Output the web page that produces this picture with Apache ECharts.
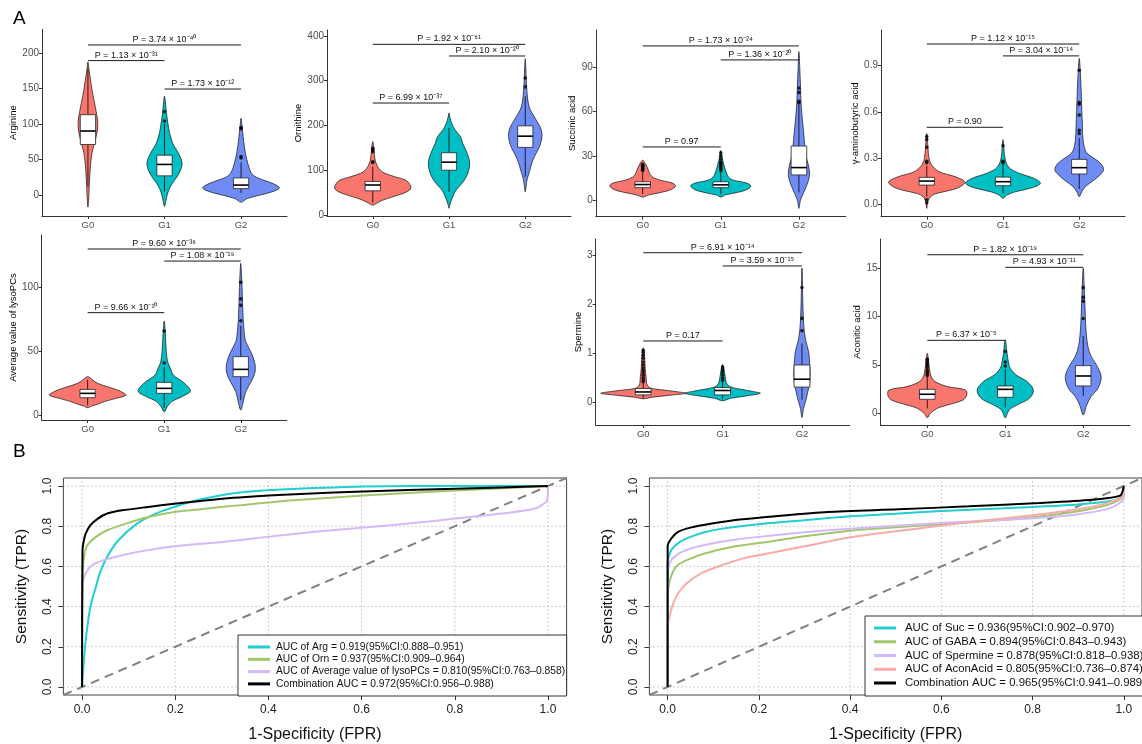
<!DOCTYPE html>
<html><head><meta charset="utf-8">
<script src="https://cdn.jsdelivr.net/npm/echarts@6/dist/echarts.min.js"></script>
<style>html,body{margin:0;padding:0;background:#fff}#c{width:1142px;height:744px}</style>
</head><body><div id="c"></div>
<script>
// ---------------- DATA ----------------
const groups = ['G0', 'G1', 'G2'];
const groupColors = ['#F8766D', '#00BFC4', '#6F8CF5'];

// violin shapes: [value, half-width in group units]; boxes: [lowWhisker, Q1, median, Q3, highWhisker]
const argTicks = [0, 50, 100, 150, 200];
const argViolins = [
  [[-17,0],[0,0.012],[15,0.018],[30,0.026],[45,0.036],[60,0.055],[75,0.09],[90,0.122],[102,0.128],[115,0.112],[130,0.085],[145,0.058],[160,0.036],[175,0.015],[187,0]],
  [[-16,0],[-8,0.018],[0,0.035],[8,0.06],[16,0.1],[25,0.16],[35,0.21],[45,0.229],[55,0.2],[63,0.16],[70,0.12],[78,0.09],[88,0.065],[98,0.048],[110,0.032],[122,0.02],[132,0.01],[139,0]],
  [[-10,0],[-5,0.08],[0,0.25],[5,0.42],[10,0.5],[15,0.44],[20,0.32],[25,0.2],[30,0.14],[40,0.1],[50,0.075],[60,0.055],[75,0.035],[90,0.02],[100,0.01],[108,0]]
];
const argBoxes = [[12, 71, 90, 113, 178], [5, 27, 43, 56, 100], [3, 9, 14, 24, 46]];
const argOutliers = [[2, 104], [2, 117], [3, 52], [3, 54], [3, 93], [3, 95]];
const argPvals = [[1, 3, 211, 'P = 3.74 × 10⁻⁴⁰'], [1, 2, 189, 'P = 1.13 × 10⁻³¹'], [2, 3, 149, 'P = 1.73 × 10⁻¹²']];

const ornTicks = [0, 100, 200, 300, 400];
const ornViolins = [
  [[22,0],[26,0.05],[33,0.13],[40,0.25],[46,0.36],[53,0.46],[60,0.5],[70,0.48],[78,0.43],[85,0.3],[93,0.16],[100,0.1],[108,0.065],[120,0.035],[135,0.022],[150,0.014],[164,0]],
  [[15,0],[25,0.015],[41,0.05],[55,0.09],[63,0.13],[75,0.19],[90,0.24],[105,0.265],[118,0.27],[130,0.255],[145,0.22],[160,0.18],[175,0.15],[190,0.08],[205,0.035],[218,0.012],[228,0]],
  [[52,0],[65,0.012],[80,0.025],[100,0.06],[115,0.085],[130,0.12],[150,0.18],[165,0.21],[180,0.22],[195,0.2],[210,0.15],[225,0.1],[235,0.065],[250,0.04],[270,0.025],[300,0.014],[330,0.007],[349,0]]
];
const ornBoxes = [[28, 54, 67, 75, 108], [52, 100, 118, 139, 195], [85, 151, 176, 199, 265]];
const ornOutliers = [[1, 117], [1, 119], [1, 141], [1, 145], [1, 149], [3, 286], [3, 306]];
const ornPvals = [[1, 3, 381, 'P = 1.92 × 10⁻⁶¹'], [2, 3, 355, 'P = 2.10 × 10⁻²⁰'], [1, 2, 250, 'P = 6.99 × 10⁻³⁷']];

const sucTicks = [0, 30, 60, 90];
const sucViolins = [
  [[2,0],[3.5,0.08],[5,0.22],[7,0.36],[9.5,0.42],[11.5,0.38],[13.5,0.22],[15.5,0.13],[17.5,0.095],[20,0.075],[22.5,0.055],[25,0.03],[27,0]],
  [[2,0],[3.5,0.06],[5,0.2],[7,0.33],[9.5,0.385],[11.5,0.33],[13.5,0.16],[15.5,0.1],[18,0.075],[21,0.055],[24,0.04],[27,0.025],[30,0.014],[33.5,0]],
  [[-5.7,0],[0,0.02],[5,0.06],[10,0.1],[15,0.13],[19,0.135],[24,0.12],[30,0.09],[37,0.075],[45,0.062],[54,0.045],[65,0.028],[77,0.02],[88,0.012],[100.6,0]]
];
const sucBoxes = [[4, 8.4, 10.5, 12.4, 19], [4, 8.4, 10.3, 12.4, 19], [5, 17, 22, 36.6, 65]];
const sucOutliers = [[1,20],[1,20.6],[1,21.2],[1,21.8],[1,22.4],[1,23],[1,23.6],[1,24.3],
  [2,20],[2,21],[2,22],[2,23],[2,24],[2,25],[2,26],[2,28],[2,30],[2,32],[3,66],[3,67],[3,73],[3,76]];
const sucPvals = [[1, 3, 104.5, 'P = 1.73 × 10⁻²⁴'], [2, 3, 95, 'P = 1.36 × 10⁻²⁰'], [1, 2, 36, 'P = 0.97']];

const gabaTicks = [0, 0.3, 0.6, 0.9];
const gabaViolins = [
  [[-0.026,0],[0.02,0.015],[0.05,0.05],[0.07,0.12],[0.09,0.3],[0.115,0.44],[0.145,0.5],[0.18,0.37],[0.21,0.17],[0.245,0.08],[0.28,0.04],[0.33,0.022],[0.4,0.012],[0.46,0]],
  [[0.04,0],[0.06,0.05],[0.08,0.15],[0.1,0.32],[0.12,0.45],[0.14,0.49],[0.17,0.4],[0.2,0.22],[0.23,0.1],[0.26,0.05],[0.3,0.025],[0.36,0.012],[0.42,0]],
  [[0.05,0],[0.08,0.03],[0.115,0.08],[0.16,0.2],[0.2,0.29],[0.225,0.32],[0.26,0.29],[0.29,0.22],[0.32,0.13],[0.35,0.08],[0.42,0.05],[0.5,0.042],[0.6,0.035],[0.7,0.028],[0.8,0.02],[0.88,0.012],[0.948,0]]
];
const gabaBoxes = [[0.05, 0.125, 0.151, 0.175, 0.25], [0.07, 0.121, 0.147, 0.177, 0.26], [0.1, 0.197, 0.238, 0.292, 0.43]];
const gabaOutliers = [[1,0.01],[1,0.03],[1,0.27],[1,0.28],[1,0.37],[1,0.42],[1,0.44],[2,0.27],[2,0.28],[2,0.38],
  [3,0.46],[3,0.48],[3,0.58],[3,0.65],[3,0.66],[3,0.87]];
const gabaPvals = [[1, 3, 1.04, 'P = 1.12 × 10⁻¹⁵'], [2, 3, 0.963, 'P = 3.04 × 10⁻¹⁴'], [1, 2, 0.5, 'P = 0.90']];

const lysoTicks = [0, 50, 100];
const lysoViolins = [
  [[6.2,0],[7.5,0.05],[9,0.13],[11,0.22],[13.5,0.37],[16,0.5],[18,0.46],[20,0.39],[22.6,0.26],[25.2,0.13],[27.8,0.065],[30.4,0]],
  [[3,0],[7,0.04],[11,0.1],[14.8,0.23],[18.7,0.34],[22,0.32],[26.5,0.24],[31.7,0.12],[37,0.08],[42,0.045],[50,0.028],[60,0.018],[67,0.012],[73.8,0]],
  [[4.4,0],[10.9,0.033],[18.7,0.065],[26.5,0.135],[31,0.17],[35.6,0.19],[42,0.18],[50,0.13],[57.7,0.065],[65,0.045],[75,0.032],[85,0.025],[100,0.017],[110,0.01],[118.7,0]]
];
const lysoBoxes = [[8, 14, 17.4, 20.5, 28], [6, 17.4, 21.3, 26, 38], [12, 30.4, 36.1, 46, 70]];
const lysoOutliers = [[2, 41], [2, 66], [3, 74], [3, 86], [3, 91], [3, 104]];
const lysoPvals = [[1, 3, 129.9, 'P = 9.60 × 10⁻³⁶'], [2, 3, 120.5, 'P = 1.08 × 10⁻¹⁹'], [1, 2, 80.3, 'P = 9.66 × 10⁻¹⁰']];

const spmTicks = [0, 1, 2, 3];
const spmViolins = [
  [[0.07,0],[0.1,0.1],[0.14,0.32],[0.183,0.535],[0.22,0.4],[0.25,0.25],[0.285,0.1],[0.35,0.05],[0.49,0.038],[0.69,0.025],[0.9,0.019],[1.11,0]],
  [[0.03,0],[0.08,0.1],[0.13,0.3],[0.183,0.475],[0.22,0.38],[0.26,0.25],[0.3,0.12],[0.36,0.06],[0.45,0.04],[0.6,0.025],[0.77,0]],
  [[-0.31,0],[-0.12,0.02],[0.01,0.044],[0.22,0.075],[0.45,0.1],[0.7,0.1],[1.03,0.084],[1.24,0.05],[1.44,0.03],[1.7,0.018],[2.1,0.01],[2.74,0]]
];
const spmBoxes = [[0.08, 0.15, 0.21, 0.28, 0.4], [0.06, 0.15, 0.24, 0.3, 0.42], [0.05, 0.31, 0.47, 0.76, 1.2]];
const spmOutliers = [[1,0.42],[1,0.46],[1,0.5],[1,0.55],[1,0.6],[1,0.65],[1,0.7],[1,0.76],[1,0.82],[1,0.9],[1,0.96],[1,1.02],[1,1.06],
  [2,0.45],[2,0.5],[2,0.56],[2,0.62],[2,0.67],[2,0.72],[3,1.46],[3,1.71],[3,2.34]];
const spmPvals = [[1, 3, 3.05, 'P = 6.91 × 10⁻¹⁴'], [2, 3, 2.78, 'P = 3.59 × 10⁻¹⁵'], [1, 2, 1.25, 'P = 0.17']];

const aconTicks = [0, 5, 10, 15];
const aconViolins = [
  [[-0.45,0],[0,0.04],[0.52,0.13],[0.86,0.26],[1.38,0.46],[1.9,0.506],[2.41,0.49],[2.76,0.26],[3.28,0.1],[3.8,0.05],[4.5,0.03],[5.3,0.018],[6.2,0]],
  [[-0.45,0],[0.34,0.05],[0.86,0.15],[1.55,0.31],[2.41,0.36],[3.28,0.28],[3.97,0.14],[4.66,0.064],[5.34,0.04],[6.3,0.022],[7.6,0]],
  [[-0.17,0],[0.86,0.045],[1.72,0.1],[2.6,0.19],[3.8,0.23],[5,0.17],[5.7,0.115],[6.4,0.077],[7.4,0.05],[9.1,0.032],[10.9,0.023],[12.6,0.015],[15,0]]
];
const aconBoxes = [[0.5, 1.45, 1.97, 2.48, 3.8], [0.6, 1.66, 2.48, 2.83, 4.6], [1.8, 2.83, 3.86, 4.93, 8]];
const aconOutliers = [[1,3.9],[1,4.1],[1,4.3],[1,4.5],[1,4.8],[1,5.0],[1,5.2],[1,5.4],[1,5.6],[2,4.9],[2,5.3],[2,6.4],
  [3,9.8],[3,11.6],[3,12],[3,13]];
const aconPvals = [[1, 3, 16.4, 'P = 1.82 × 10⁻¹⁹'], [2, 3, 15.1, 'P = 4.93 × 10⁻¹¹'], [1, 2, 7.55, 'P = 6.37 × 10⁻⁵']];

// ROC curves [FPR, TPR]
const rocTicks = [0, 0.2, 0.4, 0.6, 0.8, 1.0];
const rocArg = [[0,0],[0.003,0.1],[0.008,0.235],[0.018,0.4],[0.03,0.5],[0.038,0.565],[0.054,0.648],[0.078,0.73],[0.118,0.813],[0.158,0.863],[0.198,0.896],[0.246,0.929],[0.318,0.962],[0.397,0.979],[0.54,0.993],[0.7,1.0],[1,1]];
const rocOrn = [[0,0],[0.001,0.55],[0.003,0.63],[0.01,0.70],[0.03,0.747],[0.054,0.78],[0.094,0.813],[0.142,0.846],[0.198,0.871],[0.254,0.885],[0.342,0.905],[0.461,0.93],[0.621,0.955],[0.78,0.975],[1,1]];
const rocLyso = [[0,0],[0,0.5],[0.008,0.565],[0.022,0.607],[0.046,0.631],[0.086,0.656],[0.142,0.681],[0.198,0.70],[0.302,0.722],[0.397,0.747],[0.5,0.772],[0.6,0.793],[0.7,0.813],[0.8,0.838],[0.9,0.863],[0.972,0.888],[0.998,0.929],[1,1]];
const rocComb1 = [[0,0],[0.001,0.68],[0.004,0.73],[0.008,0.764],[0.018,0.805],[0.034,0.838],[0.054,0.863],[0.086,0.879],[0.142,0.896],[0.198,0.912],[0.302,0.937],[0.421,0.955],[0.54,0.968],[0.7,0.98],[0.9,0.993],[1,1]];
const rocSuc = [[0,0],[0,0.62],[0.008,0.681],[0.027,0.722],[0.05,0.747],[0.081,0.77],[0.12,0.788],[0.2,0.81],[0.3,0.83],[0.4,0.85],[0.5,0.862],[0.6,0.876],[0.7,0.886],[0.8,0.896],[0.9,0.908],[0.97,0.925],[0.995,0.945],[1,1]];
const rocGaba = [[0,0],[0,0.45],[0.005,0.532],[0.019,0.6],[0.042,0.631],[0.081,0.664],[0.143,0.698],[0.2,0.716],[0.3,0.75],[0.4,0.778],[0.5,0.795],[0.6,0.81],[0.7,0.826],[0.8,0.845],[0.9,0.875],[0.97,0.91],[1,0.955],[1,1]];
const rocSpm = [[0,0],[0,0.55],[0.004,0.615],[0.019,0.656],[0.05,0.689],[0.097,0.714],[0.151,0.734],[0.2,0.747],[0.3,0.77],[0.4,0.788],[0.5,0.802],[0.6,0.816],[0.7,0.828],[0.8,0.84],[0.9,0.86],[0.97,0.89],[1,0.94],[1,1]];
const rocAcon = [[0,0],[0,0.3],[0.01,0.4],[0.023,0.466],[0.042,0.516],[0.073,0.565],[0.12,0.607],[0.166,0.64],[0.2,0.656],[0.3,0.70],[0.4,0.745],[0.5,0.775],[0.6,0.803],[0.7,0.83],[0.8,0.855],[0.9,0.885],[0.97,0.92],[1,0.96],[1,1]];
const rocComb2 = [[0,0],[0,0.7],[0.008,0.739],[0.023,0.772],[0.05,0.793],[0.097,0.813],[0.158,0.833],[0.236,0.85],[0.351,0.871],[0.506,0.884],[0.66,0.899],[0.815,0.916],[0.93,0.932],[0.992,0.952],[1,1]];
const diagLine = [[-0.04, -0.04], [1.04, 1.04]];
const rocLeftNames = ['AUC of Arg = 0.919(95%CI:0.888–0.951)', 'AUC of Orn = 0.937(95%CI:0.909–0.964)',
  'AUC of Average value of lysoPCs = 0.810(95%CI:0.763–0.858)', 'Combination AUC = 0.972(95%CI:0.956–0.988)'];
const rocRightNames = ['AUC of Suc = 0.936(95%CI:0.902–0.970)', 'AUC of GABA = 0.894(95%CI:0.843–0.943)',
  'AUC of Spermine = 0.878(95%CI:0.818–0.938)', 'AUC of AconAcid = 0.805(95%CI:0.736–0.874)', 'Combination AUC = 0.965(95%CI:0.941–0.989)'];

// ---------------- LAYOUT / STYLE ----------------
const FONT = '"Liberation Sans", Arial, Helvetica, sans-serif';
const violinPanels = [
  {name: 'Arginine', ticks: argTicks, violins: argViolins, boxes: argBoxes, outliers: argOutliers, pvals: argPvals, digits: 0},
  {name: 'Ornithine', ticks: ornTicks, violins: ornViolins, boxes: ornBoxes, outliers: ornOutliers, pvals: ornPvals, digits: 0},
  {name: 'Succinic acid', ticks: sucTicks, violins: sucViolins, boxes: sucBoxes, outliers: sucOutliers, pvals: sucPvals, digits: 0},
  {name: 'γ-aminobutyric acid', ticks: gabaTicks, violins: gabaViolins, boxes: gabaBoxes, outliers: gabaOutliers, pvals: gabaPvals, digits: 1},
  {name: 'Average value of lysoPCs', ticks: lysoTicks, violins: lysoViolins, boxes: lysoBoxes, outliers: lysoOutliers, pvals: lysoPvals, digits: 0},
  {name: 'Spermine', ticks: spmTicks, violins: spmViolins, boxes: spmBoxes, outliers: spmOutliers, pvals: spmPvals, digits: 0},
  {name: 'Aconitic acid', ticks: aconTicks, violins: aconViolins, boxes: aconBoxes, outliers: aconOutliers, pvals: aconPvals, digits: 0}
];
const violinLayout = [
  {left: 42, top: 29.3, width: 245, height: 186.7, min: -29.5, max: 233, nameGap: 21.5},
  {left: 327, top: 30, width: 244, height: 186, min: -2.2, max: 413, nameGap: 20.5},
  {left: 595.8, top: 30, width: 250, height: 186.7, min: -11.3, max: 115.3, nameGap: 15.2},
  {left: 881, top: 30, width: 244, height: 186.7, min: -0.08, max: 1.131, nameGap: 20.2},
  {left: 41.7, top: 235, width: 245, height: 185, min: -3.35, max: 140.8, nameGap: 21.2},
  {left: 595.6, top: 239, width: 254, height: 186, min: -0.464, max: 3.33, nameGap: 10.2},
  {left: 880.5, top: 239, width: 249.5, height: 186, min: -1.21, max: 18.03, nameGap: 16.2}
];
const rocLayout = [
  {left: 63.4, top: 478, width: 503.2, height: 218},
  {left: 649.4, top: 478, width: 501.2, height: 218}
];
const rocColors = {arg: '#22CED2', orn: '#A2C66B', lyso: '#D5B8F8', suc: '#22CED2', gaba: '#A2C66B', spm: '#D5B8F8', acon: '#F9AAAA', comb: '#000'};

const grids = [], xAxes = [], yAxes = [], series = [];

violinPanels.forEach((p, i) => {
  const L = violinLayout[i];
  grids.push({left: L.left, top: L.top, width: L.width, height: L.height});
  xAxes.push({type: 'value', gridIndex: i, min: 0.4, max: 3.6,
    axisLine: {show: true, onZero: false, lineStyle: {color: '#333', width: 1}},
    axisTick: {show: true, customValues: [1, 2, 3], length: 3, lineStyle: {color: '#333'}},
    axisLabel: {customValues: [1, 2, 3], formatter: v => groups[Math.round(v) - 1], fontSize: 9.5, color: '#4d4d4d', margin: 4, fontFamily: FONT},
    splitLine: {show: false}});
  yAxes.push({type: 'value', gridIndex: i, min: L.min, max: L.max,
    name: p.name, nameLocation: 'middle', nameGap: L.nameGap,
    nameTextStyle: {fontSize: 9.5, color: '#000', fontFamily: FONT},
    axisLine: {show: true, onZero: false, lineStyle: {color: '#333', width: 1}},
    axisTick: {show: true, customValues: p.ticks, length: 3, lineStyle: {color: '#333'}},
    axisLabel: {customValues: p.ticks, formatter: v => v.toFixed(p.digits), fontSize: 10, color: '#4d4d4d', margin: 3, fontFamily: FONT},
    splitLine: {show: false}});

  // violins
  series.push({type: 'custom', xAxisIndex: i, yAxisIndex: i, silent: true, z: 2,
    data: p.violins.map((v, k) => [k + 1, v[0][0]]),
    renderItem: (params, api) => {
      const k = params.dataIndex, g = k + 1, shp = p.violins[k];
      const right = shp.map(([v, w]) => api.coord([g + w, v]));
      const left = shp.slice(1, -1).reverse().map(([v, w]) => api.coord([g - w, v]));
      return {type: 'polygon', shape: {points: right.concat(left), smooth: 0.35},
        style: {fill: groupColors[k], stroke: '#111', lineWidth: 0.7}};
    }});
  // boxes
  series.push({type: 'custom', xAxisIndex: i, yAxisIndex: i, silent: true, z: 3,
    data: p.boxes.map((b, k) => [k + 1, b[2]]),
    renderItem: (params, api) => {
      const k = params.dataIndex, g = k + 1, b = p.boxes[k];
      const c = b.map(v => api.coord([g, v]));
      const xl = api.coord([g - 0.1, b[2]])[0], xr = api.coord([g + 0.1, b[2]])[0];
      const ls = {stroke: '#000', lineWidth: 0.8};
      return {type: 'group', children: [
        {type: 'line', shape: {x1: c[0][0], y1: c[0][1], x2: c[1][0], y2: c[1][1]}, style: ls},
        {type: 'line', shape: {x1: c[3][0], y1: c[3][1], x2: c[4][0], y2: c[4][1]}, style: ls},
        {type: 'rect', shape: {x: xl, y: c[3][1], width: xr - xl, height: c[1][1] - c[3][1]}, style: {fill: '#fff', stroke: '#222', lineWidth: 0.8}},
        {type: 'line', shape: {x1: xl, y1: c[2][1], x2: xr, y2: c[2][1]}, style: {stroke: '#000', lineWidth: 1.6}}
      ]};
    }});
  // outliers
  series.push({type: 'scatter', xAxisIndex: i, yAxisIndex: i, silent: true, z: 4,
    data: p.outliers, symbol: 'circle', symbolSize: 3.6, itemStyle: {color: '#000'}});
  // significance brackets
  series.push({type: 'custom', xAxisIndex: i, yAxisIndex: i, silent: true, z: 5,
    data: p.pvals.map(q => [(q[0] + q[1]) / 2, q[2]]),
    renderItem: (params, api) => {
      const q = p.pvals[params.dataIndex];
      const a = api.coord([q[0], q[2]]), b = api.coord([q[1], q[2]]);
      return {type: 'group', children: [
        {type: 'line', shape: {x1: a[0], y1: a[1], x2: b[0], y2: b[1]}, style: {stroke: '#000', lineWidth: 0.9}},
        {type: 'text', style: {text: q[3], x: (a[0] + b[0]) / 2, y: a[1] - 1, align: 'center', verticalAlign: 'bottom',
          fontSize: 9, fontFamily: FONT, fill: '#111'}}
      ]};
    }});
});

// ROC panels
const rocSets = [
  {names: rocLeftNames, curves: [rocArg, rocOrn, rocLyso, rocComb1], colors: [rocColors.arg, rocColors.orn, rocColors.lyso, rocColors.comb]},
  {names: rocRightNames, curves: [rocSuc, rocGaba, rocSpm, rocAcon, rocComb2], colors: [rocColors.suc, rocColors.gaba, rocColors.spm, rocColors.acon, rocColors.comb]}
];
rocSets.forEach((s, j) => {
  const gi = 7 + j, L = rocLayout[j];
  grids.push({left: L.left, top: L.top, width: L.width, height: L.height, show: true, borderColor: '#444', borderWidth: 1, backgroundColor: 'transparent'});
  xAxes.push({type: 'value', gridIndex: gi, min: -0.04, max: 1.04,
    name: '1-Specificity (FPR)', nameLocation: 'middle', nameGap: 32,
    nameTextStyle: {fontSize: 16, color: '#111', fontFamily: FONT},
    axisLine: {show: false, onZero: false},
    axisTick: {show: true, customValues: rocTicks, length: 5, lineStyle: {color: '#333'}},
    axisLabel: {customValues: rocTicks, formatter: v => v.toFixed(1), fontSize: 12, color: '#222', margin: 9, fontFamily: FONT},
    splitLine: {show: false}});
  yAxes.push({type: 'value', gridIndex: gi, min: -0.04, max: 1.04,
    name: 'Sensitivity (TPR)', nameLocation: 'middle', nameGap: 34,
    nameTextStyle: {fontSize: 15.5, color: '#111', fontFamily: FONT},
    axisLine: {show: false, onZero: false},
    axisTick: {show: true, customValues: rocTicks, length: 5, lineStyle: {color: '#333'}},
    axisLabel: {customValues: rocTicks, formatter: v => v.toFixed(1), rotate: 90, fontSize: 12, color: '#222', margin: 10, fontFamily: FONT},
    splitLine: {show: false}});
  // dotted grid
  series.push({type: 'custom', xAxisIndex: gi, yAxisIndex: gi, silent: true, z: 1,
    data: rocTicks.map(v => [v, v]),
    renderItem: (params, api) => {
      const v = rocTicks[params.dataIndex];
      const a = api.coord([v, -0.04]), b = api.coord([v, 1.04]);
      const c = api.coord([-0.04, v]), d = api.coord([1.04, v]);
      const st = {stroke: '#BDBDBD', lineWidth: 1, lineDash: [1.5, 2.5]};
      return {type: 'group', children: [
        {type: 'line', shape: {x1: a[0], y1: a[1], x2: b[0], y2: b[1]}, style: st},
        {type: 'line', shape: {x1: c[0], y1: c[1], x2: d[0], y2: d[1]}, style: st}
      ]};
    }});
  // diagonal
  series.push({type: 'line', xAxisIndex: gi, yAxisIndex: gi, silent: true, z: 2, data: diagLine, symbol: 'none',
    lineStyle: {color: '#808080', width: 2, type: [9, 6]}});
  s.curves.forEach((c, k) => {
    series.push({type: 'line', name: s.names[k], xAxisIndex: gi, yAxisIndex: gi, silent: true, z: 3 + k,
      data: c, symbol: 'none', smooth: 0.25, color: s.colors[k],
      lineStyle: {color: s.colors[k], width: 2}});
  });
});

const option = {
  animation: false,
  backgroundColor: '#fff',
  textStyle: {fontFamily: FONT},
  grid: grids, xAxis: xAxes, yAxis: yAxes, series: series,
  legend: [
    {data: rocLeftNames, left: 248, top: 641, orient: 'vertical', icon: 'rect', itemWidth: 22, itemHeight: 3, itemGap: 0.3, padding: 0,
      selectedMode: false, z: 60, textStyle: {fontSize: 10.3, color: '#111', lineHeight: 12, padding: [0, 0, 0, 1], fontFamily: FONT}},
    {data: rocRightNames, left: 874, top: 621.5, orient: 'vertical', icon: 'rect', itemWidth: 22, itemHeight: 3, itemGap: 0.75, padding: 0,
      selectedMode: false, z: 60, textStyle: {fontSize: 11.4, color: '#111', lineHeight: 13, padding: [0, 0, 0, 4], fontFamily: FONT}}
  ],
  graphic: [
    {type: 'text', left: 13, top: 9, z: 50, style: {text: 'A', fontSize: 19, fill: '#000', fontFamily: FONT}},
    {type: 'text', left: 13, top: 442, z: 50, style: {text: 'B', fontSize: 19, fill: '#000', fontFamily: FONT}},
    {type: 'rect', z: 50, shape: {x: 238, y: 635, width: 328.6, height: 61}, style: {fill: '#fff', stroke: '#333', lineWidth: 1}},
    {type: 'rect', z: 50, shape: {x: 865, y: 616, width: 290, height: 80}, style: {fill: '#fff', stroke: '#333', lineWidth: 1}}
  ]
};

const chart = echarts.init(document.getElementById('c'), null, {renderer: 'canvas', width: 1142, height: 744});
chart.setOption(option);
</script>
</body></html>
